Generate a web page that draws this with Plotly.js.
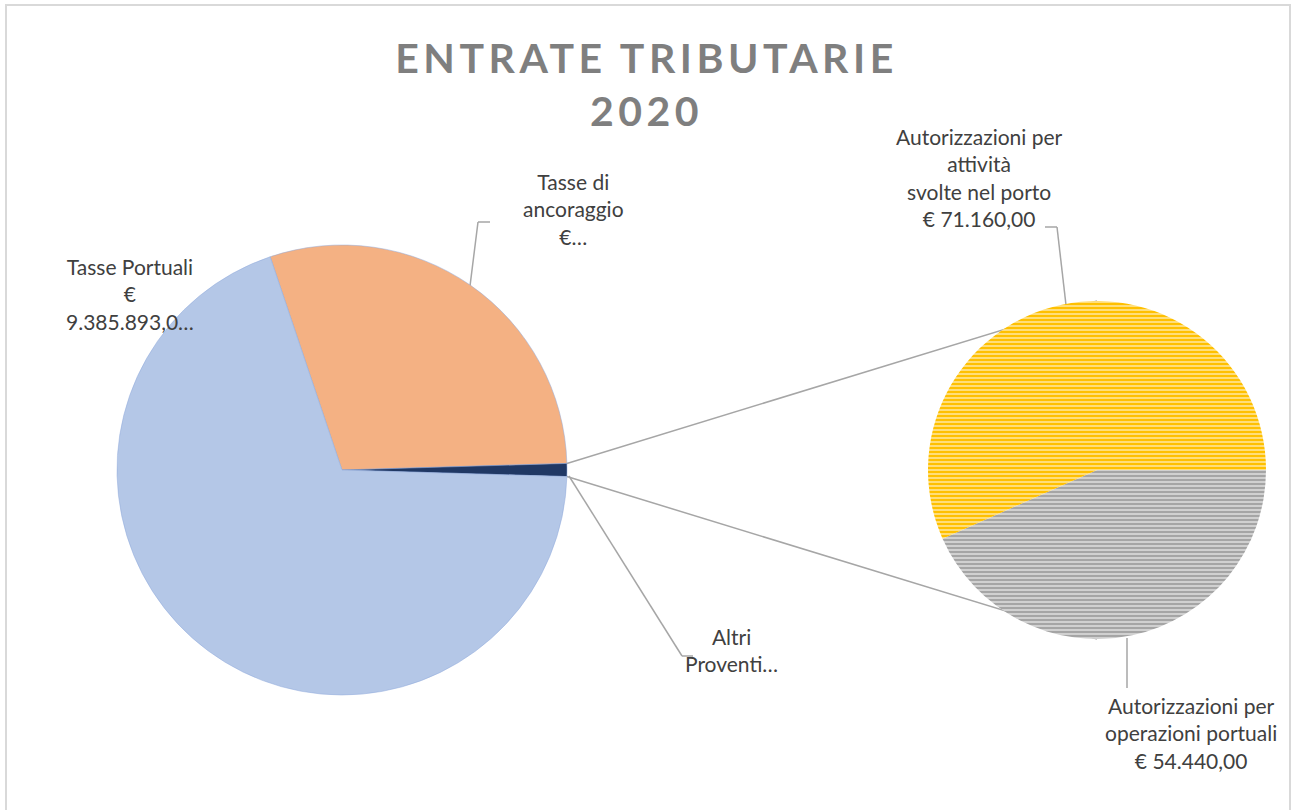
<!DOCTYPE html>
<html>
<head>
<meta charset="utf-8">
<script src="https://cdn.plot.ly/plotly-3.0.1.min.js"></script>
<style>
  html, body { margin: 0; padding: 0; background: #ffffff; }
  #chart { width: 1293px; height: 810px; }
  .gtitle { letter-spacing: 4.5px; }
</style>
</head>
<body>
<div id="chart"></div>
<script>
// ---- data ----
const mainLabels = ["Tasse di ancoraggio", "Altri Proventi", "Tasse Portuali"];
const mainValues = [4020000, 125600, 9385893];
const mainColors = ["#f4b183", "#203864", "#b4c7e7"];

const subLabels = ["Autorizzazioni per operazioni portuali", "Autorizzazioni per attività svolte nel porto"];
const subValues = [54440, 71160];
const subColors = ["#a5a5a5", "#ffc000"];

const titleText = "ENTRATE TRIBUTARIE<br>2020";

// ---- layout helpers ----
const W = 1293, H = 810;
const px = x => x / W;
const py = y => 1 - y / H;

const c1 = {x: 342, y: 470, r: 225};
const c2 = {x: 1097, y: 470, r: 169};

const total = mainValues.reduce((a, b) => a + b, 0);
const fO = mainValues[0] / total, fN = mainValues[1] / total;
const mainRotation = 90 - (fO + fN / 2) * 360;

const traceMain = {
  type: "pie",
  labels: mainLabels,
  values: mainValues,
  sort: false,
  direction: "clockwise",
  rotation: mainRotation,
  marker: {colors: mainColors, line: {width: 1, color: "rgba(143,170,220,0.5)"}},
  textinfo: "none",
  hoverinfo: "label+value",
  domain: {x: [px(c1.x - c1.r), px(c1.x + c1.r)], y: [py(c1.y + c1.r), py(c1.y - c1.r)]}
};

const traceSub = {
  type: "pie",
  labels: subLabels,
  values: subValues,
  sort: false,
  direction: "clockwise",
  rotation: 90,
  marker: {
    colors: subColors,
    line: {width: 0},
    pattern: {shape: "-", fillmode: "replace", bgcolor: subColors, fgcolor: "rgba(255,255,255,0.8)", size: 4, solidity: 0.3}
  },
  textinfo: "none",
  hoverinfo: "label+value",
  domain: {x: [px(c2.x - c2.r), px(c2.x + c2.r)], y: [py(c2.y + c2.r), py(c2.y - c2.r)]}
};

// connector lines from the small slice edges to the top / bottom of the second pie
const half = fN * Math.PI;
const sTop = {x: c1.x + c1.r * Math.cos(half), y: c1.y - c1.r * Math.sin(half)};
const sBot = {x: c1.x + c1.r * Math.cos(half), y: c1.y + c1.r * Math.sin(half)};
const lineGray = {color: "#a6a6a6", width: 1.5};

function seg(x0, y0, x1, y1) {
  return {type: "line", xref: "paper", yref: "paper", x0: px(x0), y0: py(y0), x1: px(x1), y1: py(y1), line: lineGray, layer: "below"};
}

const shapes = [
  seg(sTop.x, sTop.y, c2.x, c2.y - c2.r),
  seg(sBot.x, sBot.y, c2.x, c2.y + c2.r),
  // leader lines
  seg(470, 286, 478, 222), seg(478, 222, 490, 222),
  seg(569, 476, 682, 656), seg(682, 656, 693, 656),
  seg(1066, 305, 1057, 227), seg(1057, 227, 1045, 227),
  seg(1127, 638, 1127, 688),
  // chart border
  {type: "rect", xref: "paper", yref: "paper", x0: px(6), y0: py(812), x1: px(1290), y1: py(5),
   line: {color: "#d9d9d9", width: 2}, layer: "above"}
];

const lblFont = {family: "Lato, 'Open Sans', sans-serif", size: 21, color: "#404040"};
function ann(text, x, y) {
  return {text: text, x: px(x), y: py(y), xref: "paper", yref: "paper", showarrow: false,
          xanchor: "center", yanchor: "middle", align: "center", font: lblFont};
}

const annotations = [
  ann("Tasse Portuali<br>€<br>9.385.893,0…", 130, 294),
  ann("Tasse di<br>ancoraggio<br>€…", 573, 209),
  ann("Altri<br>Proventi…", 731, 650),
  ann("Autorizzazioni per<br>attività<br>svolte nel porto<br>€ 71.160,00", 979, 177),
  ann("Autorizzazioni per<br>operazioni portuali<br>€ 54.440,00", 1191, 733)
];

const layout = {
  width: W, height: H,
  margin: {l: 0, r: 0, t: 0, b: 0},
  paper_bgcolor: "#ffffff",
  showlegend: false,
  title: {
    text: titleText,
    x: 0.5, xanchor: "center",
    y: py(73), yanchor: "top",
    font: {family: "Lato, 'Open Sans', sans-serif", size: 41, color: "#7f7f7f", weight: "bold"}
  },
  shapes: shapes,
  annotations: annotations
};

Plotly.newPlot("chart", [traceMain, traceSub], layout, {displayModeBar: false, staticPlot: true});
</script>
</body>
</html>
